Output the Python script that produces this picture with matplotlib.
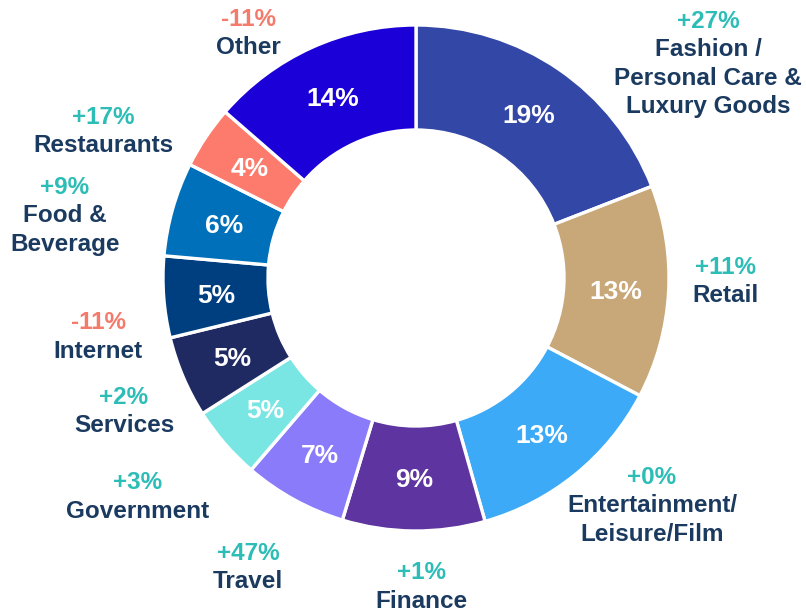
import numpy as np
import matplotlib.pyplot as plt

plt.rcParams['font.family'] = ['Liberation Sans', 'DejaVu Sans']

# data, clockwise from 12 o'clock
categories = ['Fashion /\nPersonal Care &\nLuxury Goods', 'Retail', 'Entertainment/\nLeisure/Film',
              'Finance', 'Travel', 'Government', 'Services', 'Internet',
              'Food &\nBeverage', 'Restaurants', 'Other']
# slice sizes as drawn (measured from the ring) and the labels printed on them
shares = [19.1, 13.6, 12.9, 9.1, 6.6, 4.7, 5.2, 5.2, 6.0, 4.0, 13.6]
share_labels = ['19%', '13%', '13%', '9%', '7%', '5%', '5%', '5%', '6%', '4%', '14%']
changes = [27, 11, 0, 1, 47, 3, 2, -11, 9, 17, -11]

colors = ['#3347A6', '#C8A878', '#3DAAF8', '#5E35A0', '#8A7BFB', '#7AE6E4',
          '#202A62', '#003F7F', '#0070BA', '#FC7B6C', '#1C00D8']

# outer label anchors in pixels (x centre, baseline of the change line)
label_px = [(708, 28), (726, 274), (652, 484), (421, 579), (248, 560), (138, 489),
            (124, 404), (98, 329), (65, 194), (103, 124), (248, 26)]

W, H = 806, 608
cx, cy, R = 416, 278, 253

fig = plt.figure(figsize=(W / 100, H / 100), dpi=100)
ax = fig.add_axes([0, 0, 1, 1])

wedges, texts = ax.pie(shares, colors=colors, startangle=90, counterclock=False, radius=1,
                       wedgeprops=dict(width=0.415, edgecolor='white', linewidth=2.4))

# share labels in the middle of the ring
for w, lab in zip(wedges, share_labels):
    ang = np.deg2rad((w.theta1 + w.theta2) / 2)
    ax.text(0.79 * np.cos(ang), 0.79 * np.sin(ang), lab, ha='center', va='center_baseline',
            color='white', fontsize=19, fontweight='bold')

# pie resets the limits, so set them afterwards
ax.set_xlim(-cx / R, (W - cx) / R)
ax.set_ylim(-(H - cy) / R, cy / R)
ax.set_aspect('equal')
ax.axis('off')

name_col = '#1B3A5F'
pos_col = '#2CBDB6'
neg_col = '#F47B6C'
step = 28.5

for name, ch, (px, py) in zip(categories, changes, label_px):
    x = (px - cx) / R
    y = (cy - py) / R
    sign = '+' if ch >= 0 else ''
    ax.text(x, y, f'{sign}{ch}%', ha='center', va='baseline', fontsize=17.5,
            fontweight='bold', color=pos_col if ch >= 0 else neg_col)
    for i, line in enumerate(name.split('\n')):
        ax.text(x, y - step * (i + 1) / R, line, ha='center', va='baseline',
                fontsize=17.5, fontweight='bold', color=name_col)

fig.savefig('out.png', dpi=100, facecolor='white')
